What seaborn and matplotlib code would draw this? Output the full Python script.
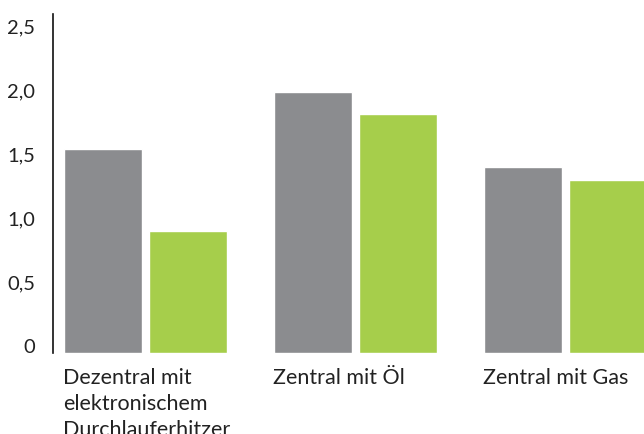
import numpy as np
import pandas as pd
import matplotlib
matplotlib.use("Agg")
import matplotlib.pyplot as plt
import matplotlib.transforms as mtransforms
import seaborn as sns

# data
categories = ["Dezentral mit\nelektronischem\nDurchlauferhitzer", "Zentral mit Öl", "Zentral mit Gas"]
series = ["Reihe 1", "Reihe 2"]
values_grey = [1.59, 2.04, 1.45]
values_green = [0.95, 1.87, 1.35]
y_ticks = [0, 0.5, 1.0, 1.5, 2.0, 2.5]
y_labels = ["0", "0,5", "1,0", "1,5", "2,0", "2,5"]

colors = ["#8b8c8f", "#a6ce4b"]

df = pd.DataFrame({
    "Kategorie": categories * 2,
    "Reihe": [series[0]] * 3 + [series[1]] * 3,
    "Wert": values_grey + values_green,
})

sns.set_theme(style="white")
plt.rcParams["font.family"] = ["Lato", "DejaVu Sans"]
plt.rcParams["text.color"] = "#222222"

fig = plt.figure(figsize=(6.44, 4.34), dpi=100)
# axes in pixel terms: left 53, right 644, bottom 353, top 14
ax = fig.add_axes([53 / 644, (434 - 353) / 434, 591 / 644, (353 - 14) / 434])

sns.barplot(data=df, x="Kategorie", y="Wert", hue="Reihe", palette=colors,
            width=0.81, gap=0.082, saturation=1, legend=False, ax=ax)

ax.set_xlim(-0.442, 2.374)
ax.set_ylim(0, 2.648)
ax.set_xlabel("")
ax.set_ylabel("")

for s in ["top", "right", "bottom"]:
    ax.spines[s].set_visible(False)
ax.spines["left"].set_color("#111111")
ax.spines["left"].set_linewidth(1.2)

ax.set_yticks(y_ticks, labels=y_labels)
ax.tick_params(axis="y", length=0, pad=13, labelsize=14.5, labelcolor="#222222")
ax.tick_params(axis="x", length=0, pad=11, labelsize=15.5, labelcolor="#222222")
plt.setp(ax.get_yticklabels(), va="baseline")

# x labels start at the left edge of each bar group
offset = mtransforms.ScaledTranslation(-0.83, 0, fig.dpi_scale_trans)
for lab in ax.get_xticklabels():
    lab.set_horizontalalignment("left")
    lab.set_multialignment("left")
    lab.set_linespacing(1.38)
    lab.set_transform(lab.get_transform() + offset)

fig.savefig("out.png", dpi=100)
